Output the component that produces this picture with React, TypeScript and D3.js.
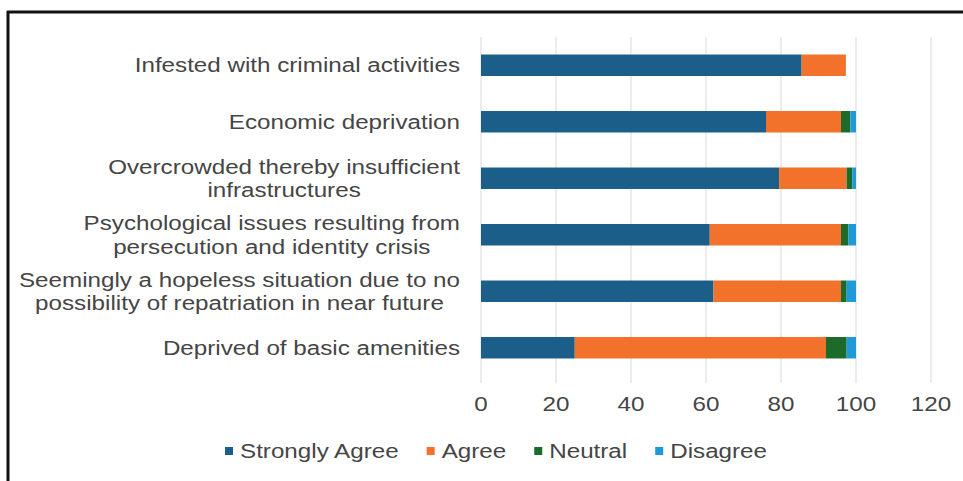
import React, { useEffect, useRef } from "react";
import * as d3 from "d3";

const categories: string[][] = [
  ["Infested with criminal activities"],
  ["Economic deprivation"],
  ["Overcrowded thereby insufficient", "infrastructures"],
  ["Psychological issues resulting from", "persecution and identity crisis"],
  ["Seemingly a hopeless situation due to no", "possibility of repatriation in near future"],
  ["Deprived of basic amenities"],
];
const seriesNames = ["Strongly Agree", "Agree", "Neutral", "Disagree"];
const stronglyAgree = [85.5, 76, 79.5, 61, 62, 25];
const agree = [11.8, 20, 18, 35, 34, 67];
const neutral = [0, 2.5, 1.5, 2, 1.5, 5.5];
const disagree = [0, 1.5, 1, 2, 2.5, 2.5];
const ticks = [0, 20, 40, 60, 80, 100, 120];
const colors = ["#1b5e89", "#f2722c", "#1c6b2b", "#1f9ad8"];

export default function App() {
  const ref = useRef<SVGSVGElement>(null);
  useEffect(() => {
    const svg = d3.select(ref.current);
    svg.selectAll("*").remove();
    const W = 963, H = 481;
    const font = "'Liberation Sans', Arial, sans-serif";
    const fs = 20;
    const sx = 1.21;
    const txtColor = "#454545";
    svg.append("rect").attr("width", W).attr("height", H).attr("fill", "#fff");
    // frame
    svg.append("line").attr("x1", 7).attr("x2", W).attr("y1", 12).attr("y2", 12).attr("stroke", "#111").attr("stroke-width", 3);
    svg.append("line").attr("x1", 8).attr("x2", 8).attr("y1", 11).attr("y2", H).attr("stroke", "#111").attr("stroke-width", 3);

    const x = d3.scaleLinear().domain([0, 120]).range([481, 931]);
    const keys = categories.map((c) => c.join(" "));
    const y = d3.scaleBand().domain(keys).range([37, 376]).paddingInner(0.62).paddingOuter(0.31);

    // grid
    svg.append("g").selectAll("line").data(ticks).join("line")
      .attr("x1", (d) => x(d)).attr("x2", (d) => x(d))
      .attr("y1", 37).attr("y2", 383)
      .attr("stroke", "#d9d9d9").attr("stroke-width", 1);

    const rows = keys.map((k, i) => ({ key: k, v: [stronglyAgree[i], agree[i], neutral[i], disagree[i]] }));
    const stack = d3.stack<any>().keys([0, 1, 2, 3] as any).value((d: any, k: any) => d.v[k]);
    const stacked = stack(rows as any);
    svg.append("g").selectAll("g").data(stacked).join("g")
      .attr("fill", (_d, i) => colors[i])
      .selectAll("rect").data((d) => d).join("rect")
      .attr("x", (d) => x(d[0]))
      .attr("width", (d) => Math.max(0, x(d[1]) - x(d[0])))
      .attr("y", (d: any) => y(d.data.key)!)
      .attr("height", y.bandwidth());

    const addText = (parent: any, tx: number, ty: number, s: string, anchor: string) => {
      const g = parent.append("g").attr("transform", `translate(${tx},${ty}) scale(${sx},1)`);
      const t = g.append("text").attr("x", 0).attr("y", 0)
        .attr("text-anchor", anchor).attr("font-family", font).attr("font-size", fs)
        .attr("fill", txtColor).text(s);
      return { g, t, w: (t.node() as SVGTextElement).getComputedTextLength() * sx };
    };

    // tick labels
    const tg = svg.append("g");
    ticks.forEach((d) => addText(tg, x(d), 411, String(d), "middle"));

    // category labels
    const lh = 23.5;
    categories.forEach((lines, i) => {
      const cy = y(keys[i])! + y.bandwidth() / 2;
      const g = svg.append("g");
      const items = lines.map((l, j) => addText(g, 0, cy + (j - (lines.length - 1) / 2) * lh + 7, l, "middle"));
      const maxW = d3.max(items, (it) => it.w) || 0;
      items.forEach((it, j) => it.g.attr("transform", `translate(${460 - maxW / 2},${cy + (j - (lines.length - 1) / 2) * lh + 7}) scale(${sx},1)`));
    });

    // legend
    const lg = svg.append("g");
    let lx = 0;
    const gap = 28;
    seriesNames.forEach((n, i) => {
      lg.append("rect").attr("x", lx).attr("y", -4).attr("width", 8).attr("height", 8).attr("fill", colors[i]);
      const it = addText(lg, lx + 15, 7, n, "start");
      lx += 15 + it.w + gap;
    });
    const total = lx - gap;
    lg.attr("transform", `translate(${496 - total / 2},451)`);
  }, []);
  return <svg ref={ref} width={963} height={481} style={{ display: "block", position: "absolute", left: 0, top: 0 }} />;
}
